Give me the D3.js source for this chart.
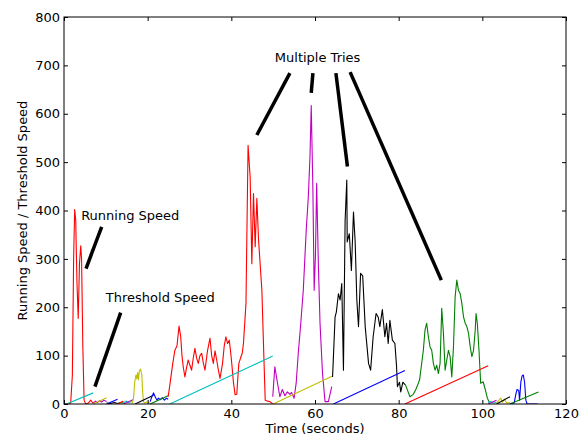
<!DOCTYPE html>
<html>
<head>
<meta charset="utf-8">
<script src="https://cdn.jsdelivr.net/npm/d3@7"></script>
<style>
  body { margin: 0; background: #fff; }
  svg { display: block; font-family: "DejaVu Sans", sans-serif; }
</style>
</head>
<body>
<script>
// matplotlib classic colour cycle
const colors = { b: '#0000ff', g: '#008000', r: '#ff0000', c: '#00bfbf', m: '#bf00bf', y: '#bfbf00', k: '#000000' };

const xTicks = [0, 20, 40, 60, 80, 100, 120];
const yTicks = [0, 100, 200, 300, 400, 500, 600, 700, 800];

// running speed traces, one per try: [time, value]
const speed1 = [[0,0],[1.2,0],[1.6,2],[2.0,60],[2.3,300],[2.55,402],[2.8,380],[3.1,250],[3.4,177],[3.7,290],[4.0,327],[4.2,300],[4.5,120],[4.8,8],[5.2,0],[5.8,2],[6.4,8],[6.8,3],[7.0,2]];
const speed2 = [[7.0,2],[7.5,6],[8.0,3],[8.5,7],[9.0,4],[9.5,8],[10.2,5]];
const speed3 = [[10.2,2],[11.0,1],[12.0,3],[12.8,1]];
const speed4 = [[12.8,1],[13.5,3],[14.2,2]];
const speed5 = [[14.2,2],[14.8,6],[15.4,3],[16.2,5]];
const speed6 = [[16.3,2],[16.6,10],[16.9,45],[17.2,60],[17.4,52],[17.6,65],[17.8,50],[18.0,68],[18.3,72],[18.6,60],[18.8,25],[19.0,5],[19.3,2],[19.8,4],[20.5,2]];
const speed7 = [[20.6,5],[21.0,15],[21.4,23],[21.8,15],[22.2,8],[22.6,12],[23.0,9],[23.5,13],[24.0,8],[24.5,12],[24.9,10]];
const speed8 = [[24.9,15],[25.3,39],[26.0,84],[26.5,111],[27.0,120],[27.5,161],[27.9,139],[28.2,100],[28.5,77],[28.9,56],[29.3,75],[29.7,91],[30.1,80],[30.5,70],[30.9,95],[31.3,115],[31.7,95],[32.1,84],[32.5,100],[32.9,105],[33.3,85],[33.7,70],[34.3,110],[34.9,136],[35.3,100],[35.7,84],[36.1,110],[36.5,91],[36.9,70],[37.3,53],[37.9,84],[38.3,120],[38.7,139],[39.1,125],[39.5,132],[39.8,110],[40.1,84],[40.5,45],[40.9,19],[41.3,20],[41.6,60],[41.8,84],[42.2,95],[42.6,105],[42.9,125],[43.5,208],[44.0,535],[44.5,469],[44.9,290],[45.3,435],[45.7,325],[46.1,425],[46.5,340],[47.3,235],[47.8,91],[48.1,8],[48.6,6],[49.2,5],[49.9,0]];
const speed9 = [[49.9,15],[50.4,77],[51.0,45],[51.6,15],[52.2,30],[52.8,17],[53.4,25],[54.0,20],[54.4,24],[55.0,12],[55.5,43],[56.0,105],[56.6,167],[57.2,235],[57.9,359],[58.4,428],[58.8,511],[59.1,617],[59.5,442],[59.8,235],[60.1,305],[60.4,456],[60.8,290],[61.2,167],[61.8,63],[62.4,5],[63.2,5],[64.0,36]];
const speed10 = [[64.2,56],[64.8,180],[65.1,190],[65.6,228],[66.0,215],[66.4,249],[66.8,70],[67.2,380],[67.6,463],[67.7,335],[68.2,352],[68.7,276],[69.2,397],[69.6,335],[70.0,215],[70.4,160],[70.9,270],[71.4,265],[72.0,160],[72.8,84],[73.3,70],[73.9,139],[74.6,187],[75.1,180],[75.5,160],[76.1,195],[76.7,139],[77.1,167],[77.5,125],[77.9,173],[78.5,132],[79.1,125],[79.5,77],[79.7,36],[80.2,45],[80.5,25],[81.0,45],[81.5,40]];
const speed11 = [[81.1,43],[81.6,40],[82.7,15],[83.5,20],[84.1,30],[84.7,43],[85.0,50],[85.9,111],[86.3,153],[86.7,167],[87.1,139],[87.5,118],[87.9,111],[88.3,84],[88.7,70],[89.1,80],[89.5,63],[89.9,84],[90.3,198],[90.7,146],[91.1,70],[91.5,91],[91.9,111],[92.3,98],[92.7,56],[93.1,118],[93.5,222],[93.9,256],[94.3,235],[94.7,228],[95.1,208],[95.5,180],[95.9,167],[96.3,160],[96.7,146],[97.1,118],[97.5,98],[97.9,111],[98.3,153],[98.5,187],[98.8,167],[99.2,111],[99.6,43],[100.2,46],[100.7,30],[101.2,12],[101.7,3]];
const speed12 = [[101.4,3],[102.0,5],[102.6,2],[103.4,3]];
const speed13 = [[103.4,2],[104.0,8],[104.4,12],[104.8,4],[105.3,10],[105.8,2],[106.6,3]];
const speed14 = [[106.6,1],[107.6,2],[108.0,20],[108.3,30],[108.7,28],[108.9,8],[109.2,45],[109.5,58],[109.8,60],[110.1,45],[110.4,8],[110.7,0],[113.2,0]];

// threshold speed ramps, start and end of each try
const thresh1 = [[0.6,0],[7.0,23]];
const thresh2 = [[7.0,0],[10.2,13]];
const thresh3 = [[10.2,0],[12.8,10]];
const thresh4 = [[12.8,0],[14.2,6]];
const thresh5 = [[14.2,0],[16.5,9]];
const thresh6 = [[17.0,0],[21.4,18]];
const thresh7 = [[20.6,0],[24.9,17]];
const thresh8 = [[25.3,0],[49.9,99]];
const thresh9 = [[50.0,0],[64.2,58]];
const thresh10 = [[64.4,0],[81.5,69]];
const thresh11 = [[81.5,0],[101.4,79]];
const thresh12 = [[101.4,0],[103.4,8]];
const thresh13 = [[103.4,0],[106.6,15]];
const thresh14 = [[106.6,0],[113.4,25]];

// plotting order: speed then threshold for each try
const traces = [
  [speed1, 'r'], [thresh1, 'c'], [speed2, 'm'], [thresh2, 'y'], [speed3, 'k'], [thresh3, 'b'],
  [speed4, 'g'], [thresh4, 'r'], [speed5, 'c'], [thresh5, 'm'], [speed6, 'y'], [thresh6, 'k'],
  [speed7, 'b'], [thresh7, 'g'], [speed8, 'r'], [thresh8, 'c'], [speed9, 'm'], [thresh9, 'y'],
  [speed10, 'k'], [thresh10, 'b'], [speed11, 'g'], [thresh11, 'r'], [speed12, 'c'], [thresh12, 'm'],
  [speed13, 'y'], [thresh13, 'k'], [speed14, 'b'], [thresh14, 'g']
];

// annotations: label text, label position, then pointer lines (from, to)
const annotations = [
  { text: 'Running Speed', at: [4.1, 380], lines: [[[9.0, 366], [5.26, 280]]] },
  { text: 'Threshold Speed', at: [10.0, 211], lines: [[[13.55, 189], [7.4, 36]]] },
  { text: 'Multiple Tries', at: [50.4, 707], lines: [
      [[54.0, 684], [46.1, 556]],
      [[59.5, 684], [59.1, 643]],
      [[65.0, 684], [67.75, 491]],
      [[68.4, 686], [90.2, 256]]
  ] }
];

const width = 579;
const height = 437;
const margin = { top: 17, right: 13, bottom: 33, left: 64 };
const innerWidth = width - margin.left - margin.right;
const innerHeight = height - margin.top - margin.bottom;

const svg = d3.select('body').append('svg')
  .attr('width', width)
  .attr('height', height)
  .attr('viewBox', `0 0 ${width} ${height}`);

const g = svg.append('g')
  .attr('transform', `translate(${margin.left},${margin.top})`);

const xScale = d3.scaleLinear().domain([0, 120]).range([0, innerWidth]);
const yScale = d3.scaleLinear().domain([0, 800]).range([innerHeight, 0]);

g.append('defs').append('clipPath').attr('id', 'clip')
  .append('rect').attr('width', innerWidth).attr('height', innerHeight);

const line = d3.line().x(d => xScale(d[0])).y(d => yScale(d[1]));

const plot = g.append('g').attr('clip-path', 'url(#clip)');
traces.forEach(([data, c]) => {
  plot.append('path')
    .datum(data)
    .attr('d', line)
    .attr('fill', 'none')
    .attr('stroke', colors[c])
    .attr('stroke-width', 1.1)
    .attr('stroke-linejoin', 'round');
});

// axes, ticks pointing inward on all four sides
const styleAxis = sel => {
  sel.attr('font-size', 13).attr('font-family', '"DejaVu Sans", sans-serif');
  sel.select('.domain').remove();
  sel.selectAll('.tick line').attr('stroke', '#000');
  sel.selectAll('.tick text').attr('fill', '#000');
};
// top and right copies carry only tick marks
const marksOnly = sel => sel.selectAll('.tick text').remove();

g.append('g')
  .attr('transform', `translate(0,${innerHeight})`)
  .call(d3.axisBottom(xScale).tickValues(xTicks).tickSize(-4).tickPadding(5).tickFormat(d3.format('d')))
  .call(styleAxis);

g.append('g')
  .call(d3.axisTop(xScale).tickValues(xTicks).tickSize(-4))
  .call(styleAxis)
  .call(marksOnly);

g.append('g')
  .call(d3.axisLeft(yScale).tickValues(yTicks).tickSize(-4).tickPadding(4).tickFormat(d3.format('d')))
  .call(styleAxis);

g.append('g')
  .attr('transform', `translate(${innerWidth},0)`)
  .call(d3.axisRight(yScale).tickValues(yTicks).tickSize(-4))
  .call(styleAxis)
  .call(marksOnly);

g.append('rect')
  .attr('width', innerWidth)
  .attr('height', innerHeight)
  .attr('fill', 'none')
  .attr('stroke', '#000')
  .attr('stroke-width', 1);

// axis labels
svg.append('text')
  .attr('x', margin.left + innerWidth / 2)
  .attr('y', 433)
  .attr('text-anchor', 'middle')
  .attr('font-size', 13)
  .text('Time (seconds)');

svg.append('text')
  .attr('transform', `translate(27,${margin.top + innerHeight / 2}) rotate(-90)`)
  .attr('text-anchor', 'middle')
  .attr('font-size', 13)
  .text('Running Speed / Threshold Speed');

// annotations
annotations.forEach(a => {
  g.append('text')
    .attr('x', xScale(a.at[0]))
    .attr('y', yScale(a.at[1]))
    .attr('font-size', 13)
    .text(a.text);
  a.lines.forEach(([p0, p1]) => {
    g.append('line')
      .attr('x1', xScale(p0[0])).attr('y1', yScale(p0[1]))
      .attr('x2', xScale(p1[0])).attr('y2', yScale(p1[1]))
      .attr('stroke', '#000')
      .attr('stroke-width', 3.5);
  });
});
</script>
</body>
</html>
